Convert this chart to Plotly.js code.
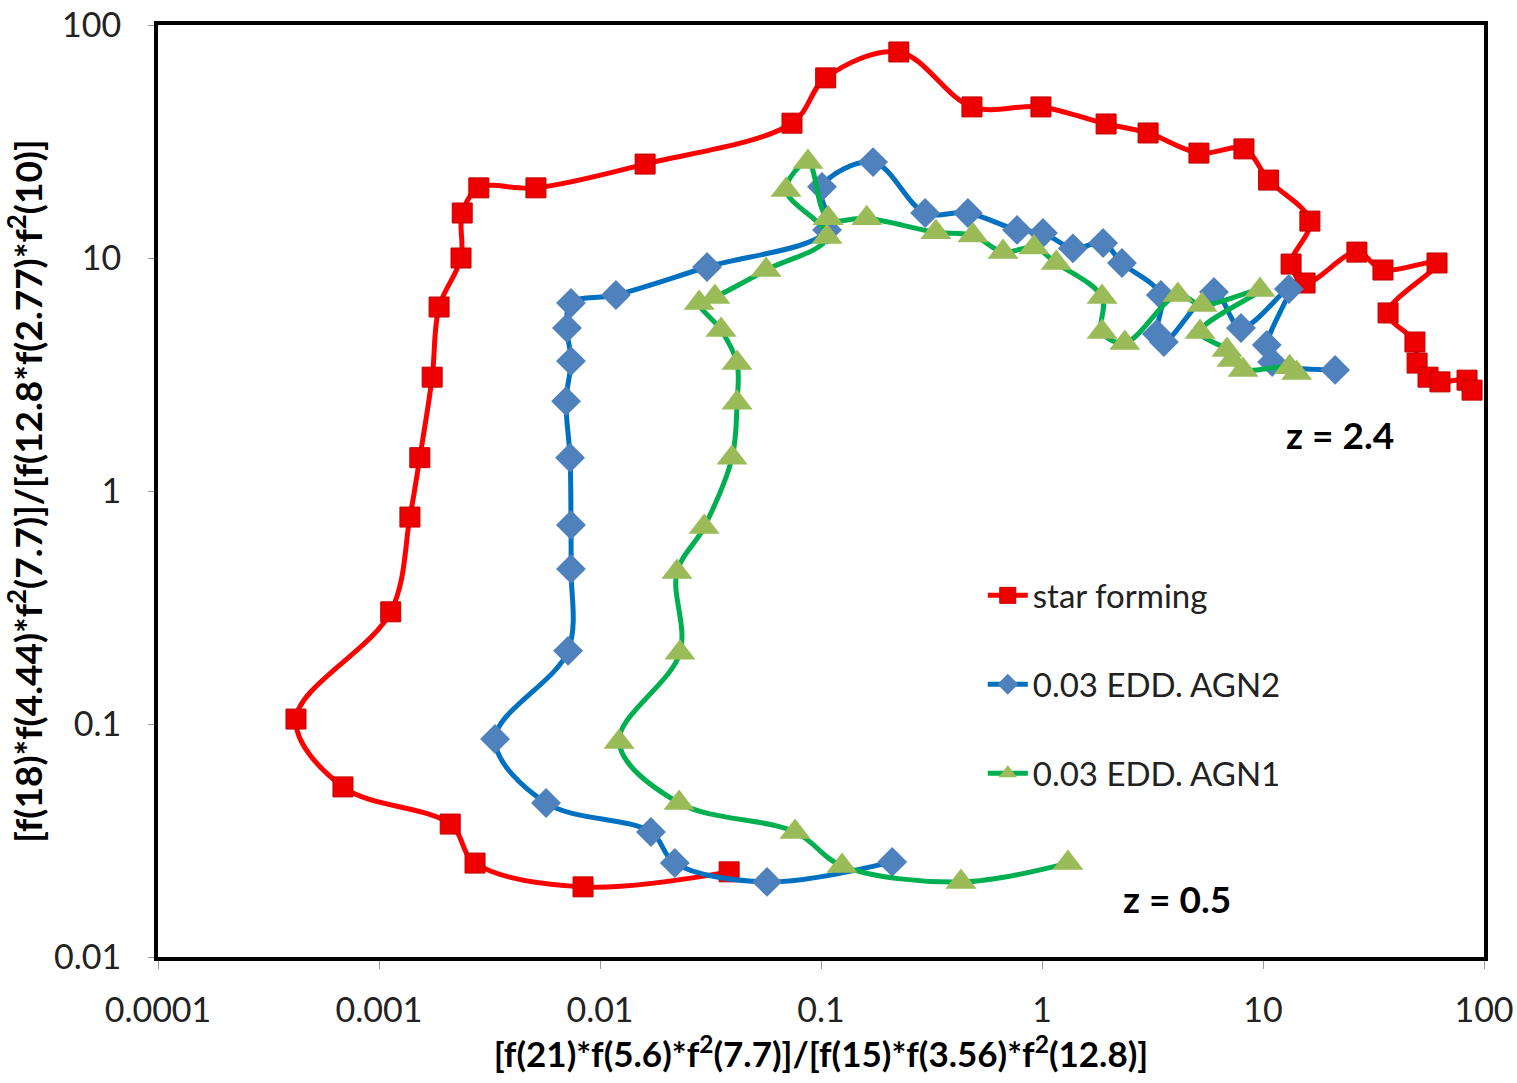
<!DOCTYPE html>
<html>
<head>
<meta charset="utf-8">
<script src="https://cdn.plot.ly/plotly-3.0.1.min.js"></script>
<style>html,body{margin:0;padding:0;background:#fff}#chart{width:1517px;height:1083px}</style>
</head>
<body>
<div id="chart"></div>
<script>
// star forming
var sfX = [0.0384, 0.00838, 0.00272, 0.00210, 0.000687, 0.000421, 0.00113, 0.00138, 0.00153, 0.00174, 0.00187, 0.00235, 0.00238, 0.00283, 0.00513, 0.0160, 0.0739, 0.105, 0.225, 0.482, 0.989, 1.95, 3.02, 5.13, 8.20, 10.6, 16.3, 13.4, 15.5, 26.6, 34.9, 61.3, 36.8, 48.7, 49.8, 55.8, 63.2, 83.8, 88.3];
var sfY = [0.0232, 0.0200, 0.0253, 0.0372, 0.0537, 0.105, 0.303, 0.773, 1.39, 3.08, 6.16, 10.0, 15.6, 20.0, 20.0, 25.3, 37.9, 59.3, 76.6, 44.5, 44.5, 37.6, 34.4, 28.2, 29.4, 21.6, 14.4, 9.42, 7.81, 10.6, 8.88, 9.52, 5.81, 4.36, 3.54, 3.08, 2.94, 2.99, 2.71];
// 0.03 EDD. AGN2
var agn2X = [0.210, 0.0570, 0.0218, 0.0170, 0.00570, 0.00335, 0.00717, 0.00739, 0.00739, 0.00732, 0.00702, 0.00739, 0.00709, 0.00739, 0.0118, 0.0305, 0.1065, 0.101, 0.172, 0.296, 0.462, 0.771, 1.01, 1.38, 1.89, 2.30, 3.45, 3.31, 3.56, 6.00, 7.95, 13.1, 10.4, 11.0, 21.2];
var agn2Y = [0.0256, 0.0210, 0.0253, 0.0344, 0.0458, 0.0862, 0.206, 0.463, 0.715, 1.39, 2.43, 3.61, 5.01, 6.41, 6.94, 9.15, 13.2, 20.2, 25.8, 15.6, 15.6, 13.2, 12.8, 11.0, 11.6, 9.52, 6.94, 4.72, 4.36, 7.15, 5.01, 7.36, 4.23, 3.58, 3.31];
// 0.03 EDD. AGN1
var agn1X = [1.31, 0.430, 0.1245, 0.0763, 0.0228, 0.0122, 0.0230, 0.0223, 0.0296, 0.0396, 0.0417, 0.0417, 0.0353, 0.0281, 0.0331, 0.0564, 0.1065, 0.0695, 0.0873, 0.1076, 0.161, 0.331, 0.487, 0.666, 0.920, 1.16, 1.87, 1.87, 2.37, 4.12, 5.30, 9.69, 5.19, 6.87, 7.24, 8.12, 13.2, 14.2];
var agn1Y = [0.0253, 0.0210, 0.0246, 0.0344, 0.0458, 0.0837, 0.202, 0.449, 0.700, 1.39, 2.39, 3.54, 4.91, 6.41, 6.80, 8.88, 12.3, 19.6, 25.8, 14.8, 14.8, 12.9, 12.5, 10.6, 11.1, 9.52, 6.80, 4.81, 4.32, 6.94, 6.28, 7.29, 4.81, 4.03, 3.65, 3.31, 3.40, 3.21];

var seriesNames = ["star forming", "0.03 EDD. AGN2", "0.03 EDD. AGN1"];
var xTickVals = [0.0001, 0.001, 0.01, 0.1, 1, 10, 100];
var xTickText = ["0.0001", "0.001", "0.01", "0.1", "1", "10", "100"];
var yTickVals = [0.01, 0.1, 1, 10, 100];
var yTickText = ["0.01", "0.1", "1", "10", "100"];
var xTitle = "[f(21)*f(5.6)*f<sup>2</sup>(7.7)]/[f(15)*f(3.56)*f<sup>2</sup>(12.8)]";
var yTitle = "[f(18)*f(4.44)*f<sup>2</sup>(7.7)]/[f(12.8*f(2.77)*f<sup>2</sup>(10)]";
var notes = ["z = 2.4", "z = 0.5"];
var notePos = [[22.3, 1.74], [4.08, 0.0179]];

var FONT = "Lato, 'Open Sans', sans-serif";

var traces = [
  {x: sfX, y: sfY, name: seriesNames[0], legendgroup: "a", mode: "lines+markers", type: "scatter",
   line: {color: "#FF0000", width: 5, shape: "spline", smoothing: 1},
   marker: {symbol: "square", size: 20, color: "#EE0000", line: {color: "#C00000", width: 1}}},
  {x: agn2X, y: agn2Y, name: seriesNames[1], legendgroup: "b", mode: "lines+markers", type: "scatter",
   line: {color: "#0070C0", width: 5, shape: "spline", smoothing: 1},
   marker: {symbol: "diamond", size: 23, color: "#4F81BD"}},
  {x: agn1X, y: agn1Y, name: seriesNames[2], legendgroup: "c", mode: "lines+markers", type: "scatter",
   line: {color: "#00B050", width: 5, shape: "spline", smoothing: 1},
   marker: {symbol: "triangle-up", size: 27, color: "#9BBB59"}}
];

var layout = {
  width: 1517, height: 1083,
  margin: {l: 158, r: 33, t: 25, b: 126, pad: 0},
  paper_bgcolor: "#fff", plot_bgcolor: "#fff",
  font: {family: FONT, color: "#000"},
  showlegend: true,
  legend: {x: 0.622, y: 0.418, xanchor: "left", yanchor: "top", bgcolor: "rgba(0,0,0,0)",
           font: {family: FONT, size: 33, color: "#222"}, traceorder: "grouped", tracegroupgap: 43,
           itemwidth: 40},
  xaxis: {type: "log", range: [-4, 2], tickvals: xTickVals, ticktext: xTickText,
          showgrid: false, zeroline: false, showline: true, mirror: true, linecolor: "#000", linewidth: 4,
          ticks: "outside", ticklen: 8, tickcolor: "#999", tickwidth: 1, ticklabelstandoff: 12,
          tickfont: {family: FONT, size: 34, color: "#222"},
          title: {text: xTitle, font: {family: FONT, size: 35, color: "#000", weight: "bold"}, standoff: 10}},
  yaxis: {type: "log", range: [-2, 2], tickvals: yTickVals, ticktext: yTickText,
          showgrid: false, zeroline: false, showline: true, mirror: true, linecolor: "#000", linewidth: 4,
          ticks: "outside", ticklen: 6, tickcolor: "#999", tickwidth: 1, ticklabelstandoff: 20,
          tickfont: {family: FONT, size: 34, color: "#222"},
          title: {text: yTitle, font: {family: FONT, size: 37, color: "#000", weight: "bold"}, standoff: 8}},
  annotations: [
    {x: Math.log10(notePos[0][0]), y: Math.log10(notePos[0][1]), xref: "x", yref: "y", text: notes[0], showarrow: false,
     font: {family: FONT, size: 37, color: "#000", weight: "bold"}},
    {x: Math.log10(notePos[1][0]), y: Math.log10(notePos[1][1]), xref: "x", yref: "y", text: notes[1], showarrow: false,
     font: {family: FONT, size: 37, color: "#000", weight: "bold"}}
  ]
};

Plotly.newPlot("chart", traces, layout, {displayModeBar: false, staticPlot: true});
</script>
</body>
</html>
